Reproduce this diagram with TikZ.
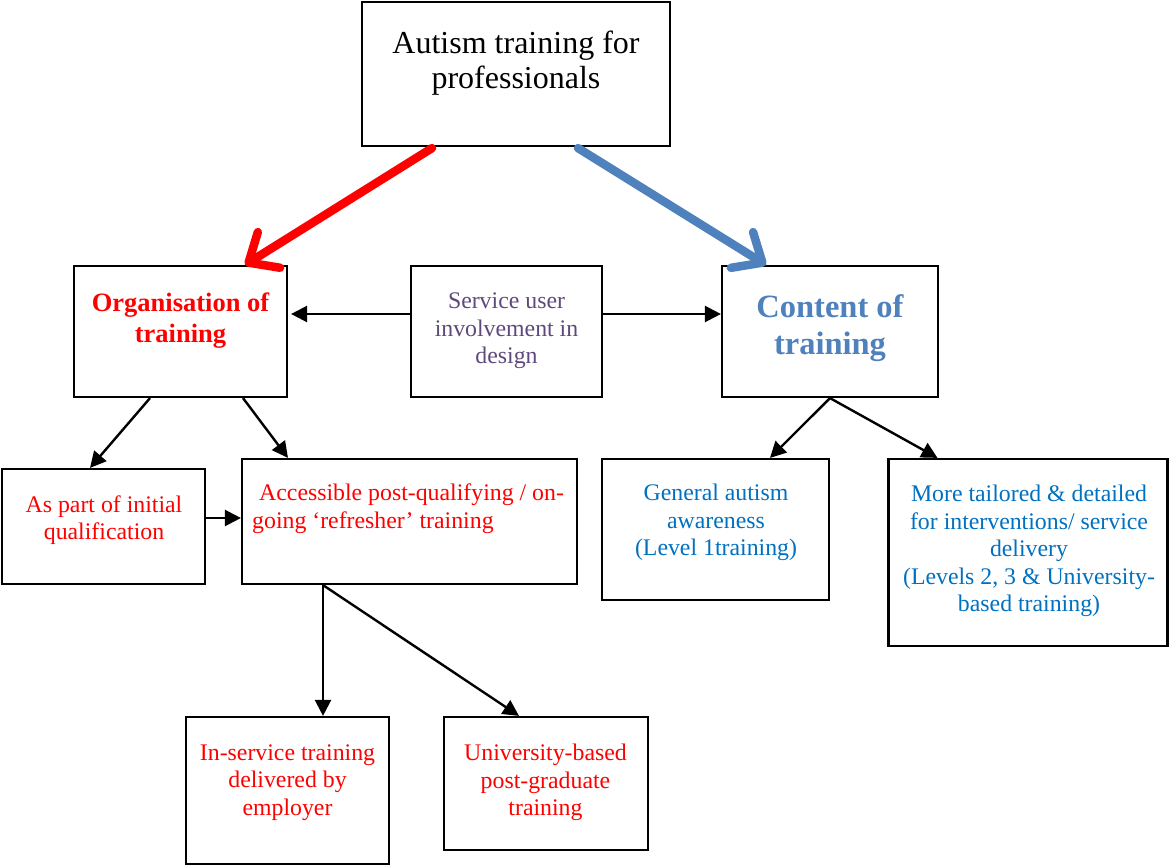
\documentclass[tikz,border=0pt]{standalone}
\usepackage{fontspec}
\setmainfont{Liberation Serif}
\usetikzlibrary{arrows.meta}
\definecolor{orgred}{RGB}{255,0,0}
\definecolor{userpurple}{RGB}{95,73,122}
\definecolor{contentblue}{RGB}{79,129,189}
\definecolor{levelblue}{RGB}{0,112,192}
\begin{document}
\begin{tikzpicture}[x=1pt,y=-1pt,
  box/.style={draw,line width=2.2pt,inner sep=0pt},
  txt/.style={align=center,inner sep=0pt,font=\fontsize{23.8}{27.5}\selectfont},
  arr/.style={line width=2.4pt,-{Triangle[length=16pt,width=16pt]}},
  bigarr/.style={line width=8.5pt,-{Straight Barb[length=24pt,width=42pt,round]},line cap=round}]
\useasboundingbox (0,0) rectangle (1169,866);
\node[box,minimum width=308pt,minimum height=144pt] (top) at (516,74) {};
\node[box,minimum width=213pt,minimum height=131pt] (org) at (180.5,331.5) {};
\node[box,minimum width=191pt,minimum height=131pt] (user) at (506.5,331.5) {};
\node[box,minimum width=216pt,minimum height=131pt] (content) at (830,331.5) {};
\node[box,minimum width=203pt,minimum height=115pt] (initial) at (103.5,526.5) {};
\node[box,minimum width=335pt,minimum height=125pt] (refresher) at (409.5,521.5) {};
\node[box,minimum width=227pt,minimum height=141pt] (general) at (715.5,529.5) {};
\node[box,minimum width=279pt,minimum height=187pt] (tailored) at (1028,552.5) {};
\node[box,minimum width=203pt,minimum height=147pt] (inservice) at (287.5,790.5) {};
\node[box,minimum width=204pt,minimum height=133pt] (univ) at (546,783.5) {};
\node[txt,font=\fontsize{32}{35}\selectfont] (toptxt) at (516,63.5) {Autism training for\\professionals};
\node[txt,text=orgred,font=\fontsize{26.5}{31}\selectfont\bfseries] (orgtxt) at (180.5,320.5) {Organisation of\\training};
\node[txt,text=userpurple] (usertxt) at (506.5,331) {Service user\\involvement in\\design};
\node[txt,text=contentblue,font=\fontsize{32.5}{37}\selectfont\bfseries] (contenttxt) at (830,328) {Content of\\training};
\node[txt,text=orgred] (initialtxt) at (104,520) {As part of initial\\qualification};
\node[txt,text=orgred,align=left,anchor=west] (refreshertxt) at (252,508.5) {\hspace*{7pt}Accessible post-qualifying / on-\\going ‘refresher' training};
\node[txt,text=levelblue] (generaltxt) at (716,522.5) {General autism\\awareness\\(Level 1training)};
\node[txt,text=levelblue] (tailoredtxt) at (1029,551) {More tailored \& detailed\\for interventions/ service\\delivery\\(Levels 2, 3 \& University-\\based training)};
\node[txt,text=orgred] (inservicetxt) at (287.5,782.5) {In-service training\\delivered by\\employer};
\node[txt,text=orgred] (univtxt) at (545.5,782.5) {University-based\\post-graduate\\training};
\draw[bigarr,orgred] ([shift={(-84pt,-1pt)}]top.south) -- ([xshift=64.5pt]org.north);
\draw[bigarr,contentblue] ([shift={(62pt,-1pt)}]top.south) -- ([xshift=-64pt]content.north);
\draw[arr] ([yshift=17.5pt]user.west) -- ([shift={(3pt,17.5pt)}]org.east);
\draw[arr] ([yshift=17.5pt]user.east) -- ([yshift=17.5pt]content.west);
\draw[arr] ([xshift=-30.5pt]org.south) -- ([xshift=-13.5pt]initial.north);
\draw[arr] ([xshift=62.5pt]org.south) -- ([xshift=-121.5pt]refresher.north);
\draw[arr] ([yshift=8.5pt]initial.east) -- ([yshift=8.5pt]initial.east -| refresher.west);
\draw[arr] (content.south) -- ([xshift=54.5pt]general.north);
\draw[arr] (content.south) -- ([xshift=-90.5pt]tailored.north);
\draw[arr] ([xshift=-86.5pt]refresher.south) -- ([xshift=-86.5pt]refresher.south |- inservice.north);
\draw[arr] ([xshift=-86.5pt]refresher.south) -- ([xshift=-27pt]univ.north);
\end{tikzpicture}
\end{document}
